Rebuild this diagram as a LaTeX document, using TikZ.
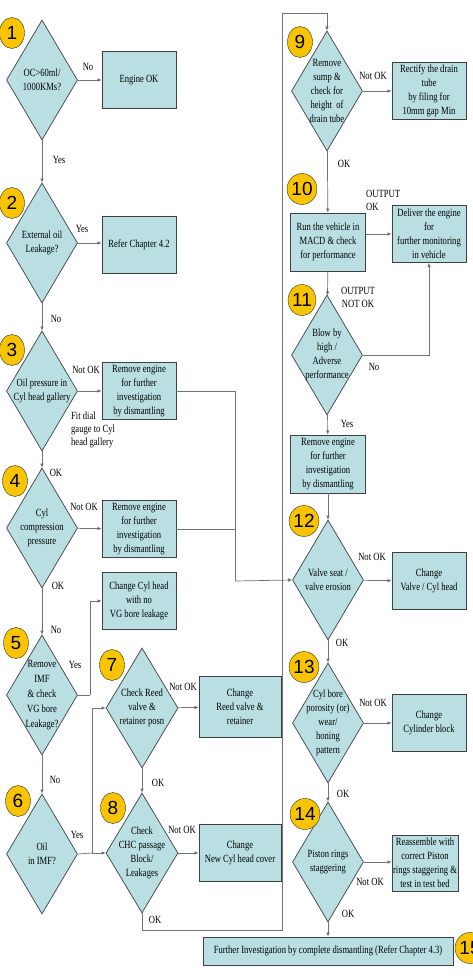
\documentclass[tikz,border=0pt]{standalone}
\usepackage{fontspec}
\setmainfont{Liberation Serif}[FakeStretch=0.78]
\newfontfamily\numfont{Liberation Sans}
\usepackage{tikz}
\usetikzlibrary{positioning,arrows.meta,shapes.geometric,calc}
\definecolor{BoxBlue}{HTML}{B9DFE2}
\definecolor{NumGold}{HTML}{F8C400}

\begin{document}
\begin{tikzpicture}[x=1pt,y=-1pt,
  dec/.style={draw=black!75, diamond, fill=BoxBlue, minimum width=71pt, minimum height=120pt, inner sep=0pt, line width=0.7pt},
  dtxt/.style={align=center, font=\fontsize{11}{14}\selectfont, inner sep=0pt},
  act/.style={draw=black!75, fill=BoxBlue, align=center, minimum width=74pt, minimum height=57pt, inner sep=1pt, font=\fontsize{11}{14}\selectfont, line width=0.9pt},
  num/.style={draw=black!80, ellipse, fill=NumGold, minimum width=25pt, minimum height=31pt, inner sep=0pt, font=\numfont\fontsize{19}{19}\selectfont},
  lbl/.style={font=\fontsize{11}{13}\selectfont, inner sep=0pt, align=center},
  flow/.style={draw=black!55, line width=0.7pt, -{Latex[length=4pt,width=3.5pt,fill=black]}},
  wire/.style={draw=black!55, line width=0.7pt}]
\useasboundingbox (0,0) rectangle (472,976);
% left column
\node[dec]  (d1) at (42,80) {};
\node[dtxt] (d1t) at (d1) {OC>60ml/\\1000KMs?};
\node[act]  (b1) at (139,80) {Engine OK};
\node[dec]  (d2) at (42,243) {};
\node[dtxt] (d2t) at (d2) {External oil\\Leakage?};
\node[act]  (b2) at (139,245) {Refer Chapter 4.2};
\node[dec]  (d3) at (42,391) {};
\node[dtxt] (d3t) at (d3) {Oil pressure in\\Cyl\ head gallery};
\node[act]  (b3) at (139,391) {Remove engine\\for further\\investigation\\by dismantling};
\node[lbl, align=left, anchor=north west] (gauge) at (71,412) {Fit dial\\gauge to Cyl\\head gallery};
\node[dec]  (d4) at (42,528) {};
\node[dtxt] (d4t) at (d4) {Cyl\\compression\\pressure};
\node[act]  (b4) at (139,529) {Remove engine\\for further\\investigation\\by dismantling};
\node[act]  (b5) at (139,601) {Change Cyl head\\with no\\VG bore leakage};
\node[dec]  (d5) at (42,695) {};
\node[dtxt, font=\fontsize{11}{15}\selectfont] (d5t) at (d5) {Remove\\IMF\\\& check\\VG bore\\Leakage?};
\node[dec]  (d6) at (42,854) {};
\node[dtxt] (d6t) at (d6) {Oil\\in IMF?};
\node[dec, minimum width=72pt] (d7) at (142,708) {};
\node[dtxt] (d7t) at (d7) {Check Reed\\valve \&\\retainer posn};
\node[act, minimum width=82pt, minimum height=61pt] (b7) at (240,707) {Change\\Reed valve \&\\retainer};
\node[dec, minimum width=72pt] (d8) at (142,853) {};
\node[dtxt] (d8t) at (d8) {Check\\CHC passage\\Block/\\Leakages};
\node[act, minimum width=82pt] (b8) at (240,853) {Change\\New Cyl head cover};
% right column
\node[dec]  (d9) at (327,91) {};
\node[dtxt] (d9t) at (d9) {Remove\\sump \&\\check for\\height\ \ of\\drain tube};
\node[act]  (b9) at (429,91) {Rectify the drain\\tube\\by filing for\\10mm gap Min};
\node[act, minimum width=75pt, minimum height=58pt] (b10) at (328,242) {Run the vehicle in\\MACD \& check\\for performance};
\node[act]  (b10r) at (429,234) {Deliver the engine\\for\\further monitoring\\in vehicle};
\node[dec]  (d11) at (327,355) {};
\node[dtxt] (d11t) at (d11) {Blow by\\high /\\Adverse\\performance};
\node[act, minimum width=75pt, minimum height=58pt] (b11) at (328,464) {Remove engine\\for further\\investigation\\by dismantling};
\node[dec]  (d12) at (328,580) {};
\node[dtxt] (d12t) at (d12) {Valve seat /\\valve erosion};
\node[act]  (b12) at (429,581) {Change\\Valve / Cyl head};
\node[dec]  (d13) at (328,723) {};
\node[dtxt] (d13t) at (d13) {Cyl bore\\porosity (or)\\wear/\\honing\\pattern};
\node[act]  (b13) at (429,723) {Change\\Cylinder block};
\node[dec]  (d14) at (328,862) {};
\node[dtxt] (d14t) at (d14) {Piston rings\\staggering};
\node[act, minimum width=66pt, minimum height=56pt] (b14) at (425,863) {Reassemble with\\correct Piston\\rings staggering \&\\test in test bed};
\node[act, minimum width=250pt, minimum height=28pt] (b15) at (328,951) {Further Investigation by complete dismantling (Refer Chapter 4.3)};
% step numbers
\node[num] (n1) at (12,33) {1};
\node[num] (n2) at (12,203) {2};
\node[num] (n3) at (12,350) {3};
\node[num] (n4) at (15,481) {4};
\node[num] (n5) at (16,643) {5};
\node[num] (n6) at (18,801) {6};
\node[num] (n7) at (112,665) {7};
\node[num] (n8) at (113,808) {8};
\node[num] (n9) at (300,42) {9};
\node[num] (n10) at (302,189) {10};
\node[num] (n11) at (302,300) {11};
\node[num] (n12) at (304,521) {12};
\node[num] (n13) at (304,667) {13};
\node[num] (n14) at (305,814) {14};
\node[num] (n15) at (470,948) {15};
% junctions
\coordinate (rail) at (235,581);
\coordinate (j5) at (90,695);
\coordinate (j6) at (92,853);
\coordinate (loopB) at (282,930);
\coordinate (loopT) at (282,13);
% connectors
\draw[flow] (d1) -- (b1);
\draw[flow] (d1) -- (d2);
\draw[flow] (d2.east) -- (d2.east -| b2.west);
\draw[flow] (d2) -- (d3);
\draw[flow] (d3) -- (b3);
\draw[flow] (d3) -- (d4);
\draw[flow] (d4) -- (b4);
\draw[flow] (d4) -- (d5);
\draw[flow] (d5) -- (d6);
\draw[wire] (d5.east) -- (j5);
\draw[flow] (j5) |- (b5.west);
\draw[wire] (d6.east) -- (j6);
\draw[flow] (j6) -- (d8.west);
\draw[flow] (j6) |- (d7.west);
\draw[flow] (d7) -- (b7);
\draw[flow] (d7) -- (d8);
\draw[flow] (d8) -- (b8);
\draw[flow] (d8.south) |- (loopB) -- (loopT) -| (d9.north);
\draw[wire] (b3.east) -| (rail);
\draw[wire] (b4.east) -- (b4.east -| rail);
\draw[flow] (rail) -- (d12.west);
\draw[flow] (d9) -- (b9);
\draw[flow] (d9) -- (b10);
\draw[flow] (b10.east |- b10r) -- (b10r.west);
\draw[flow] (b10) -- (d11);
\draw[flow] (d11.east) -| (b10r.south);
\draw[flow] (d11) -- (b11);
\draw[flow] (b11) -- (d12);
\draw[flow] (d12) -- (b12);
\draw[flow] (d12) -- (d13);
\draw[flow] (d13) -- (b13);
\draw[flow] (d13) -- (d14);
\draw[flow] (d14.east) -- (d14.east -| b14.west);
\draw[flow] (d14) -- (b15);
% labels
\node[lbl] (l1) at (88,67) {No};
\node[lbl] (l2) at (59,160) {Yes};
\node[lbl] (l3) at (82,229) {Yes};
\node[lbl] (l4) at (56,319) {No};
\node[lbl] (l5) at (86,370) {Not OK};
\node[lbl] (l6) at (56,473) {OK};
\node[lbl] (l7) at (84,507) {Not OK};
\node[lbl] (l8) at (58,586) {OK};
\node[lbl] (l9) at (56,630) {No};
\node[lbl] (l10) at (75,665) {Yes};
\node[lbl] (l11) at (55,780) {No};
\node[lbl] (l12) at (77,835) {Yes};
\node[lbl] (l13) at (183,687) {Not OK};
\node[lbl] (l14) at (158,783) {OK};
\node[lbl] (l15) at (182,830) {Not OK};
\node[lbl] (l16) at (155,920) {OK};
\node[lbl] (l17) at (373,76) {Not OK};
\node[lbl] (l18) at (344,164) {OK};
\node[lbl, align=left, anchor=west] (l19) at (366,200) {OUTPUT\\OK};
\node[lbl] (l20) at (358,297) {OUTPUT\\NOT OK};
\node[lbl] (l21) at (374,367) {No};
\node[lbl] (l22) at (347,424) {Yes};
\node[lbl] (l23) at (372,557) {Not OK};
\node[lbl] (l24) at (342,643) {OK};
\node[lbl] (l25) at (373,703) {Not OK};
\node[lbl] (l26) at (343,794) {OK};
\node[lbl] (l27) at (370,882) {Not OK};
\node[lbl] (l28) at (348,914) {OK};
\end{tikzpicture}
\end{document}
